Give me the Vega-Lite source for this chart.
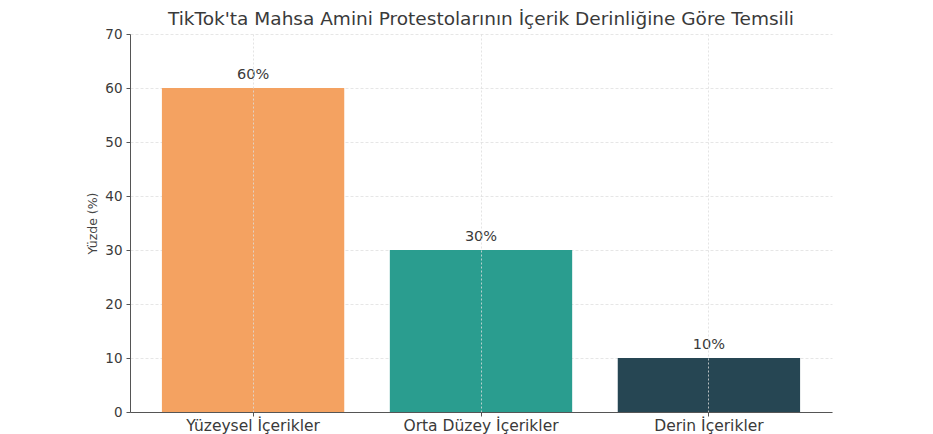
{
  "$schema": "https://vega.github.io/schema/vega-lite/v6.json",
  "width": 702,
  "height": 378,
  "autosize": {"type": "none"},
  "padding": {"left": 130, "top": 34, "right": 101, "bottom": 22},
  "background": "white",
  "title": {
    "text": "TikTok'ta Mahsa Amini Protestolarının İçerik Derinliğine Göre Temsili",
    "font": "DejaVu Sans",
    "fontSize": 18.5,
    "fontWeight": "normal",
    "color": "#3a3a3a",
    "anchor": "middle",
    "offset": -1
  },
  "data": {
    "values": [
      {"kategori": "Yüzeysel İçerikler", "yuzde": 60, "etiket": "60%"},
      {"kategori": "Orta Düzey İçerikler", "yuzde": 30, "etiket": "30%"},
      {"kategori": "Derin İçerikler", "yuzde": 10, "etiket": "10%"}
    ]
  },
  "config": {
    "view": {"stroke": null},
    "font": "DejaVu Sans"
  },
  "encoding": {
    "x": {
      "field": "kategori",
      "type": "nominal",
      "sort": null,
      "scale": {"paddingInner": 0.2, "paddingOuter": 0.14},
      "axis": {
        "title": null,
        "labelAngle": 0,
        "labelFont": "DejaVu Sans",
        "labelFontSize": 15.5,
        "labelColor": "#3a3a3a",
        "labelPadding": 2,
        "domainColor": "#555555",
        "tickColor": "#555555",
        "tickSize": 4,
        "bandPosition": 0.5,
        "grid": true,
        "gridColor": "#dddddd",
        "gridDash": [2, 2],
        "gridOpacity": 0.8,
        "zindex": 1
      }
    },
    "y": {
      "field": "yuzde",
      "type": "quantitative",
      "scale": {"domain": [0, 70], "nice": false},
      "axis": {
        "title": "Yüzde (%)",
        "titleFont": "DejaVu Sans",
        "titleFontSize": 12.5,
        "titleFontWeight": "normal",
        "titleColor": "#444444",
        "titlePadding": 5,
        "values": [0, 10, 20, 30, 40, 50, 60, 70],
        "labelFont": "DejaVu Sans",
        "labelFontSize": 13.5,
        "labelColor": "#3a3a3a",
        "labelPadding": 4,
        "domainColor": "#555555",
        "tickColor": "#555555",
        "tickSize": 4,
        "grid": true,
        "gridColor": "#e6e6e6",
        "gridDash": [3, 2]
      }
    }
  },
  "layer": [
    {
      "mark": {"type": "bar"},
      "encoding": {
        "color": {
          "field": "kategori",
          "type": "nominal",
          "legend": null,
          "scale": {
            "domain": ["Yüzeysel İçerikler", "Orta Düzey İçerikler", "Derin İçerikler"],
            "range": ["#f4a261", "#2a9d8f", "#264653"]
          }
        }
      }
    },
    {
      "mark": {"type": "text", "dy": -13, "fontSize": 14.5, "color": "#3a3a3a", "font": "DejaVu Sans"},
      "encoding": {"text": {"field": "etiket"}}
    }
  ]
}
